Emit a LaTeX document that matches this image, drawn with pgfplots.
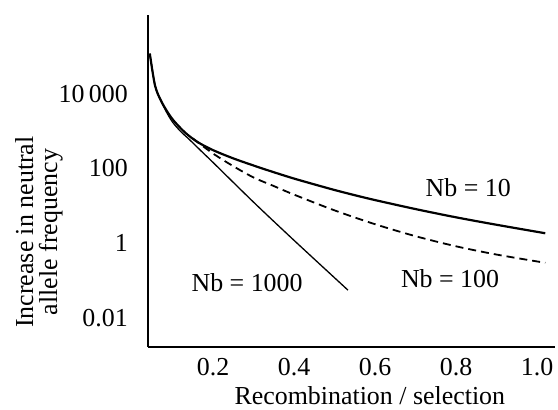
\documentclass[border=0pt]{standalone}
\usepackage{fontspec}
\setmainfont{Liberation Serif}
\usepackage{pgfplots}
\pgfplotsset{compat=1.18}

\begin{document}
\begin{tikzpicture}
\useasboundingbox (-148bp,-63bp) rectangle (410bp,347bp);
\begin{axis}[
    at={(0,0)}, anchor=south west,
    scale only axis, width=407bp, height=332bp,
    axis lines=left,
    axis line style={-, line width=2.2bp},
    ymode=log,
    xmin=0.0395, xmax=1.044,
    ymin=0.0017, ymax=1.26e6,
    xtick={0.2,0.4,0.6,0.8,1.0},
    xticklabels={0.2,0.4,0.6,0.8,1.0},
    ytick={0.01,1,100,10000},
    yticklabels={0.01,1,100,10\,000},
    yminorticks=false,
    major tick length=0pt,
    tick label style={font=\fontsize{26}{28}\selectfont, inner sep=0pt},
    xticklabel style={anchor=base, yshift=-28bp},
    yticklabel style={anchor=east, xshift=-20bp},
    xlabel={Recombination / selection},
    ylabel={Increase in neutral\\allele frequency},
    label style={font=\fontsize{26}{24}\selectfont},
    xlabel style={at={(axis description cs:0.545,0)}, anchor=base, yshift=-57bp, inner sep=0pt},
    ylabel style={at={(axis description cs:-0.268,0.346)}, anchor=center, align=center, rotate=0},
]
% Nb = 10
\addplot[line width=2.2bp, smooth] coordinates {
    (0.044,117490) (0.057,16218) (0.074,5754) (0.099,2138) (0.131,912)
    (0.163,501) (0.2,309) (0.25,186) (0.3,120) (0.35,79.4)
    (0.4,53.7) (0.45,37.6) (0.5,26.6) (0.55,19.3) (0.6,14.3)
    (0.7,8.22) (0.8,4.95) (0.9,3.13) (1.02,1.86)
};
% Nb = 100
\addplot[line width=1.8bp, smooth, dash pattern=on 8bp off 5bp] coordinates {
    (0.15,631) (0.2,251) (0.25,115) (0.3,57.5) (0.35,33.9)
    (0.4,20.0) (0.5,7.59) (0.6,3.24) (0.7,1.55) (0.8,0.832)
    (0.9,0.501) (1.02,0.302)
};
% Nb = 1000
\addplot[line width=1.3bp, smooth] coordinates {
    (0.044,117490) (0.057,16218) (0.07,6918) (0.085,3236) (0.1,1738)
    (0.12,977) (0.14,617) (0.16,380) (0.18,234) (0.2,145)
    (0.3,12.6) (0.4,1.20) (0.533,0.0562)
};
\node[font=\fontsize{26}{28}\selectfont] at (axis cs:0.83,31) {Nb = 10};
\node[font=\fontsize{26}{28}\selectfont] at (axis cs:0.785,0.117) {Nb = 100};
\node[font=\fontsize{26}{28}\selectfont] at (axis cs:0.284,0.091) {Nb = 1000};
\end{axis}
\end{tikzpicture}
\end{document}
